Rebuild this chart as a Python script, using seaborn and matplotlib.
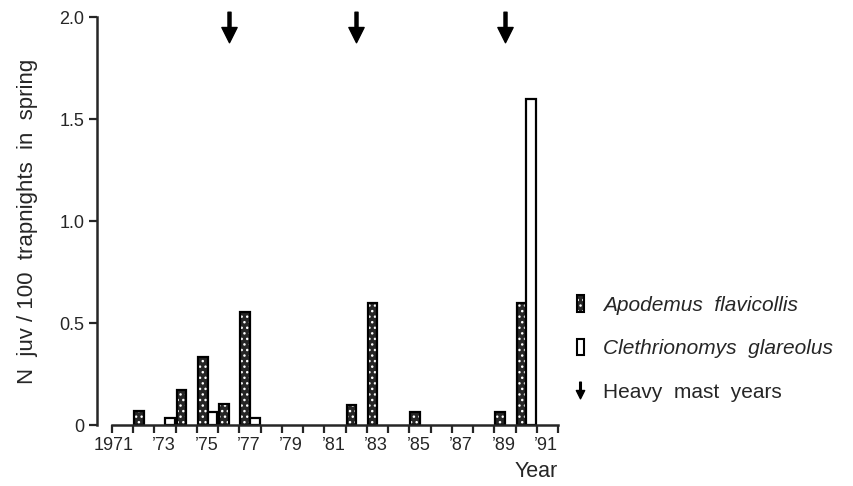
import numpy as np
import pandas as pd
import matplotlib
matplotlib.use('Agg')
import matplotlib.pyplot as plt
from matplotlib.path import Path
from matplotlib.patches import Patch
from matplotlib.lines import Line2D
import seaborn as sns

# données
years = list(range(1971, 1992))
apodemus = [0, 0.07, 0, 0.17, 0.335, 0.105, 0.555, 0, 0, 0, 0,
            0.10, 0.60, 0, 0.065, 0, 0, 0, 0.065, 0.60, 0]
clethrionomys = [0, 0, 0.033, 0, 0.063, 0, 0.033, 0, 0, 0, 0,
                 0, 0, 0, 0, 0, 0, 0, 0, 1.60, 0]
species = ['Apodemus  flavicollis', 'Clethrionomys  glareolus']
mast_years = [1976, 1982, 1989]
year_labels = ['1971', '', '’73', '', '’75', '', '’77', '', '’79', '', '’81',
               '', '’83', '', '’85', '', '’87', '', '’89', '', '’91']
y_ticks = [0, 0.5, 1.0, 1.5, 2.0]
y_ticklabels = ['0', '0.5', '1.0', '1.5', '2.0']

sns.set_style('ticks')
plt.rcParams['font.family'] = ['Liberation Sans', 'DejaVu Sans']
plt.rcParams['hatch.linewidth'] = 1.0

df = pd.DataFrame({
    'year': [str(y) for y in years] * 2,
    'value': apodemus + clethrionomys,
    'species': [species[0]] * len(years) + [species[1]] * len(years),
})

fig = plt.figure(figsize=(8.54, 4.86), dpi=100)
ax = fig.add_axes([112 / 854, 1 - 425 / 486, (558 - 112) / 854, (425 - 17) / 486])

sns.barplot(data=df, x='year', y='value', hue='species',
            order=[str(y) for y in years], hue_order=species,
            palette=['0.15', 'white'], saturation=1, width=0.9,
            edgecolor='black', linewidth=1.6, errorbar=None,
            legend=False, ax=ax)


def white_hatch(p):
    p.set_hatch('...')
    if hasattr(p, 'set_hatchcolor'):
        p.set_hatchcolor('white')
    else:
        p._hatch_color = (1, 1, 1, 1)


for cont in ax.containers:
    for p in cont:
        if p.get_height() == 0:
            p.set_visible(False)
for p in ax.containers[0]:
    white_hatch(p)

# flèches : années de forte glandée
arrow = Path([(-0.1, 1), (0.1, 1), (0.1, 0), (0.5, 0), (0, -1),
              (-0.5, 0), (-0.1, 0), (-0.1, 1)], closed=True)
mast_pos = [years.index(y) for y in mast_years]
ax.plot(mast_pos, [1.95] * len(mast_pos), ls='none', marker=arrow,
        ms=22, color='black', clip_on=False)

ax.set_xlim(-0.5, len(years) - 0.5)
ax.set_ylim(0, 2.0)
ax.set_xticks(np.arange(-0.5, len(years), 1))
ax.set_xticklabels([''] + year_labels, ha='right')
ax.set_yticks(y_ticks)
ax.set_yticklabels(y_ticklabels)
ax.tick_params(axis='x', length=6, width=1.6, pad=3, labelsize=13)
ax.tick_params(axis='y', length=6, width=1.6, pad=3, labelsize=13)

sns.despine(ax=ax)
ax.spines['left'].set_position(('outward', 11))
ax.spines['left'].set_linewidth(1.8)
ax.spines['bottom'].set_linewidth(1.8)

ax.set_ylabel('N  juv / 100  trapnights  in  spring', fontsize=16, labelpad=15)
ax.set_xlabel('Year', fontsize=15.5, loc='right', labelpad=5)

handles = [Patch(facecolor='0.15', edgecolor='black', linewidth=1.5),
           Patch(facecolor='white', edgecolor='black', linewidth=1.5),
           Line2D([], [], ls='none', marker=arrow, ms=12, color='black')]
leg = fig.legend(handles, species + ['Heavy  mast  years'], loc='upper left',
                 bbox_to_anchor=(569 / 854, 1 - 287 / 486), frameon=False,
                 handlelength=0.3, handleheight=0.85, handletextpad=0.95,
                 labelspacing=1.15, fontsize=15, borderaxespad=0)
white_hatch(leg.legend_handles[0])
for t in leg.get_texts()[:2]:
    t.set_style('italic')

fig.savefig('out.png', dpi=100)
